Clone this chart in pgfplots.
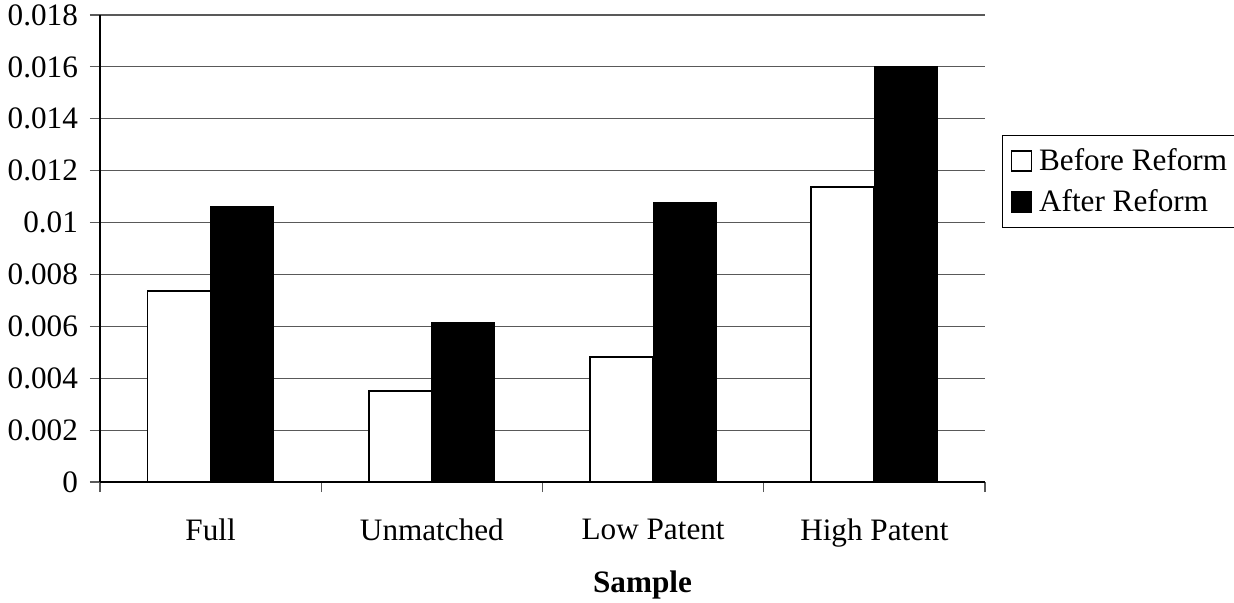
\documentclass[border=0pt]{standalone}
\usepackage{fontspec}
\setmainfont{Liberation Serif}
\usepackage{pgfplots}
\pgfplotsset{compat=1.18}
\newcommand{\chartfont}{\fontsize{15.6}{18}\selectfont}
\begin{document}
\begin{tikzpicture}
\path[use as bounding box] (0,0) rectangle (617pt,301pt);
\begin{axis}[
    at={(50pt,60pt)}, anchor=south west,
    scale only axis, width=442.5pt, height=233.5pt,
    ybar, bar width=0.285,
    xmin=-0.5, xmax=3.5, ymin=0, ymax=0.018,
    axis x line*=bottom, axis y line*=left,
    axis line style={black, line width=0.8pt},
    xtick={0,1,2,3},
    xticklabels={Full,Unmatched,Low Patent,High Patent},
    minor xtick={-0.5,0.5,1.5,2.5,3.5},
    major x tick style={draw=none},
    minor x tick style={gray!70!black, line width=0.6pt},
    minor tick length=5pt,
    major tick length=5pt,
    tick align=outside,
    ytick={0,0.002,0.004,0.006,0.008,0.01,0.012,0.014,0.016,0.018},
    yticklabels={0,0.002,0.004,0.006,0.008,0.01,0.012,0.014,0.016,0.018},
    scaled y ticks=false,
    y tick style={gray!70!black, line width=0.6pt},
    ymajorgrids,
    grid style={gray!70!black, line width=0.6pt},
    tick label style={font=\chartfont, text=black},
    xticklabel style={yshift=-10pt},
    yticklabel style={xshift=-2.5pt},
    xlabel={\textbf{Sample}},
    xlabel style={font=\chartfont, at={(axis description cs:0.613,0)}, anchor=center, yshift=-51.5pt},
    legend style={at={(1.0192,0.743)}, anchor=north west, draw=black, line width=0.5pt,
        font=\chartfont, row sep=4pt, inner xsep=4pt, inner ysep=4.5pt,
        /tikz/every odd column/.append style={column sep=1.5pt}},
    legend cell align=left,
]
\addplot[draw=black, fill=white, line width=0.9pt, bar shift=-0.1425,
    legend image code/.code={\draw[draw=black, fill=white, line width=0.8pt] (0pt,-5pt) rectangle (10pt,5pt);}]
    coordinates {(0,0.00736) (1,0.00351) (2,0.00483) (3,0.01136)};
\addplot[draw=black, fill=black, line width=0.5pt, bar shift=0.1425,
    legend image code/.code={\draw[draw=black, fill=black, line width=0.8pt] (0pt,-5pt) rectangle (10pt,5pt);}]
    coordinates {(0,0.0106) (1,0.00613) (2,0.01077) (3,0.0160)};
\legend{Before Reform, After Reform}
\end{axis}
\end{tikzpicture}
\end{document}
